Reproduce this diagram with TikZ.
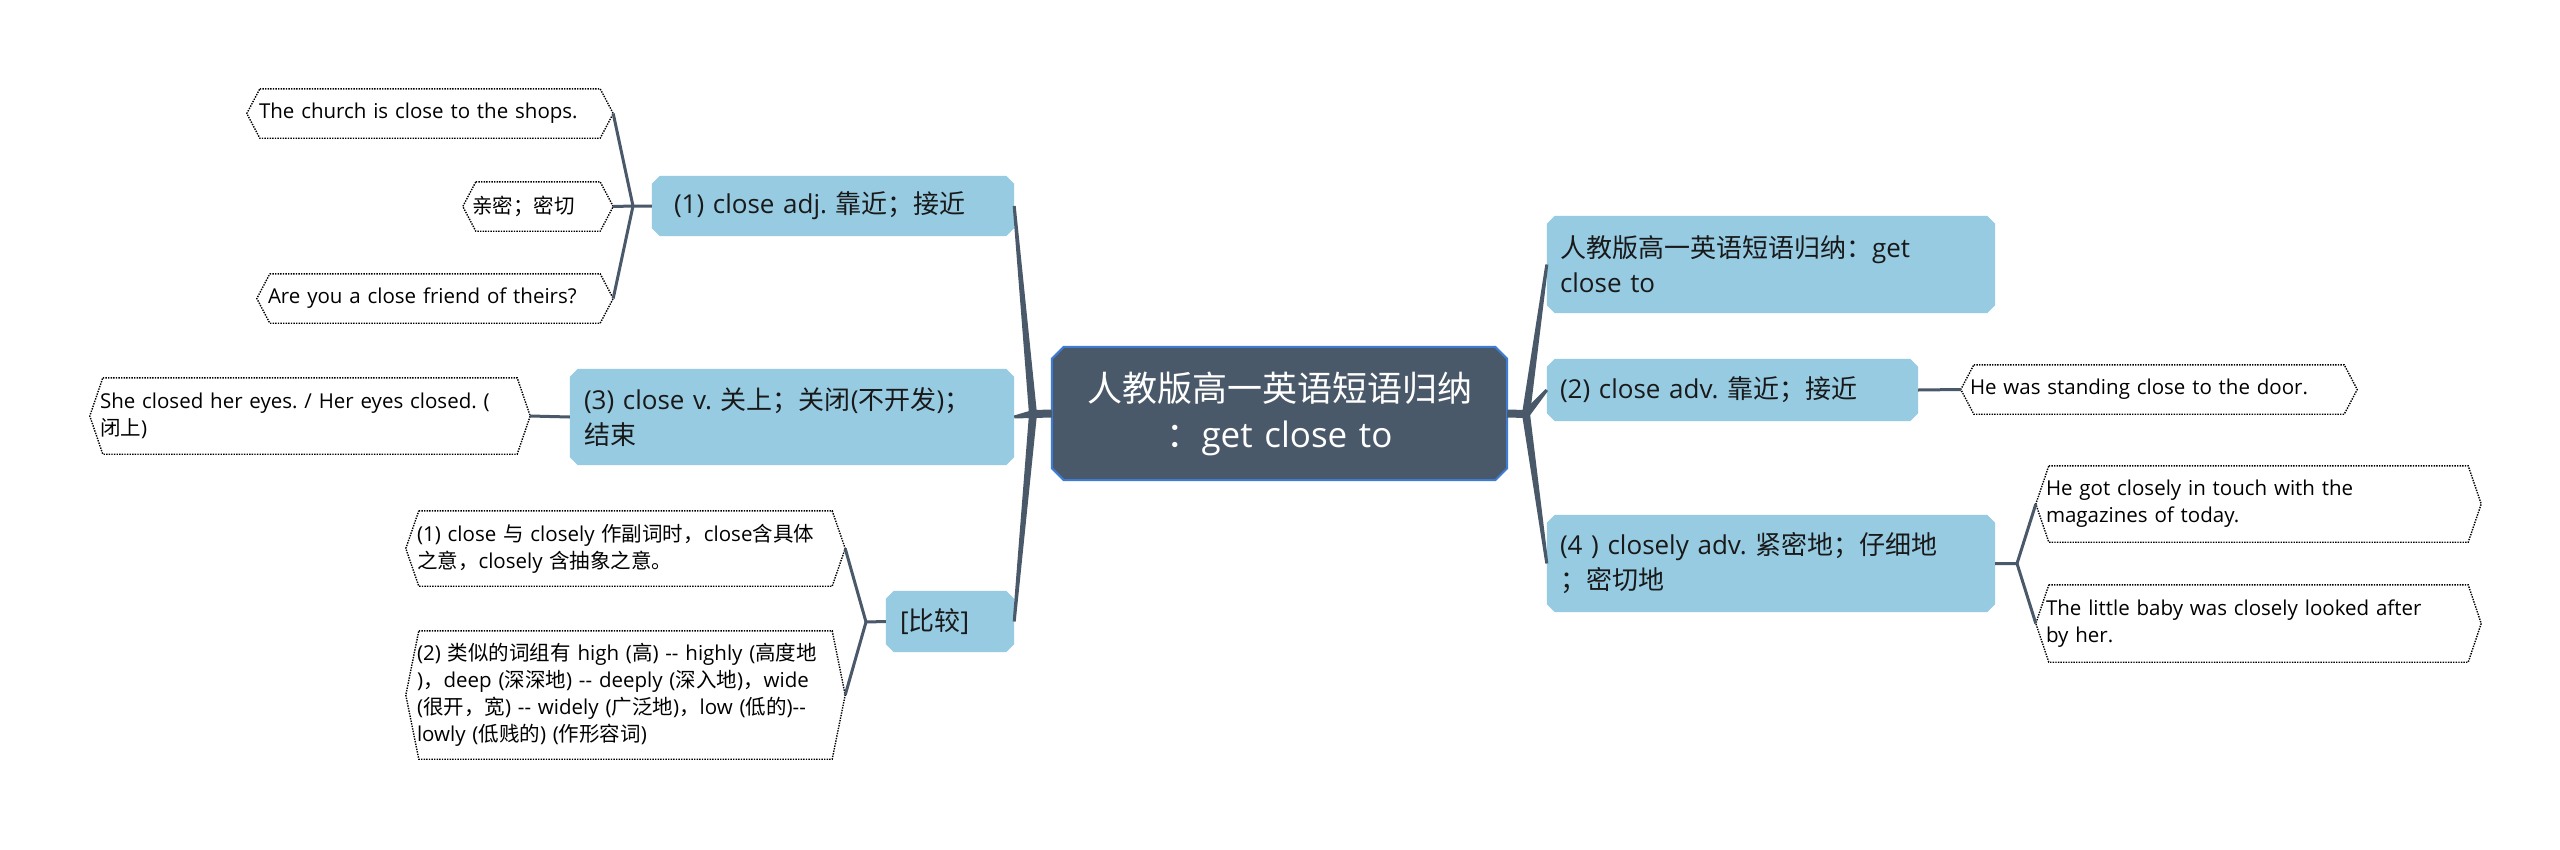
\documentclass[tikz,border=0pt]{standalone}
\usepackage{fontspec}
\setmainfont{Open Sans}
\newfontfamily\cjk{Noto Sans CJK SC}
\usetikzlibrary{calc}
\definecolor{slate}{RGB}{74,89,105}
\definecolor{lblue}{RGB}{150,203,226}
\definecolor{cborder}{RGB}{62,123,211}
\newcommand\zh[1]{{\cjk #1}}
\newcommand\ddash{-\kern0pt-}
\frenchspacing
\pgfdeclarelayer{back}\pgfdeclarelayer{bg}\pgfsetlayers{back,bg,main}
\newcommand\octbox[3]{\filldraw[#1] ($(#2.north west)+(#3,0)$) -- ($(#2.north east)+(-#3,0)$) -- ($(#2.north east)+(0,#3)$) -- ($(#2.south east)+(0,-#3)$) -- ($(#2.south east)+(-#3,0)$) -- ($(#2.south west)+(#3,0)$) -- ($(#2.south west)+(0,-#3)$) -- ($(#2.north west)+(0,#3)$) -- cycle;}
\newcommand\hexleaf[1]{\filldraw[leafline] ($(#1.north west)+(13,0)$) -- ($(#1.north east)+(-13,0)$) -- (#1.east) -- ($(#1.south east)+(-13,0)$) -- ($(#1.south west)+(13,0)$) -- (#1.west) -- cycle;}
\newcommand\mmtaper[2]{\fill[slate] ($(#1)!4pt!90:(#2)$) -- ($(#2)!1.5pt!-90:(#1)$) -- ($(#2)!1.5pt!90:(#1)$) -- ($(#1)!4pt!-90:(#2)$) -- cycle;}
\begin{document}
\begin{tikzpicture}[x=1pt,y=-1pt,
  center/.style={inner sep=0pt, align=center, text=white, font=\fontsize{35}{46}\selectfont},
  branch/.style={inner sep=0pt, align=left, text=black!90, font=\fontsize{26}{35}\selectfont},
  leaf/.style={inner sep=0pt, align=left, text=black, font=\fontsize{20.5}{27}\selectfont},
  leafconn/.style={draw=slate, line width=3pt, line join=round},
  leafline/.style={draw=black, fill=white, line width=1.4pt, dash pattern=on 1.4pt off 1.2pt}]
\useasboundingbox (0,0) rectangle (2560,849);
\begin{pgfonlayer}{back}
\fill[white] (0,0) rectangle (2560,849);
\end{pgfonlayer}

% central
\node[center, minimum width=455pt, minimum height=133pt, text width=420pt] (c) at (1279.5,413.5) {\zh{人教版高一英语短语归纳}\\\zh{：}get close to};

% branches
\node[branch, minimum width=362pt, minimum height=60pt, text width=318pt] (b1) at (833,206) {(1) close adj. \zh{靠近；接近}};
\node[branch, minimum width=444pt, minimum height=96pt, text width=416pt] (b3) at (792,417) {(3) close v. \zh{关上；关闭}(\zh{不开发})\zh{；}\\\zh{结束}};
\node[branch, minimum width=128pt, minimum height=61pt, text width=100pt] (bc) at (950,621.5) {[\zh{比较}]};
\node[branch, minimum width=448pt, minimum height=97pt, text width=422pt] (r1) at (1771,264.5) {\zh{人教版高一英语短语归纳：}get\\close to};
\node[branch, minimum width=371pt, minimum height=62pt, text width=345pt] (r2) at (1732.5,390) {(2) close adv. \zh{靠近；接近}};
\node[branch, minimum width=448pt, minimum height=97pt, text width=422pt] (r4) at (1771,563.5) {(4 ) closely adv. \zh{紧密地；仔细地}\\\zh{；密切地}};

% leaves
\node[leaf, minimum width=366pt, minimum height=49pt, text width=342pt] (l1) at (430,113.5) {The church is close to the shops.};
\node[leaf, minimum width=150pt, minimum height=49pt, text width=132pt] (l2) at (538,206.5) {\zh{亲密；密切}};
\node[leaf, minimum width=356pt, minimum height=49pt, text width=334pt] (l3) at (435,298.5) {Are you a close friend of theirs?};
\node[leaf, minimum width=440pt, minimum height=76pt, text width=420pt] (l4) at (310,416) {She closed her eyes. / Her eyes closed. (\\\zh{闭上})};
\node[leaf, minimum width=439pt, minimum height=75pt, text width=417pt] (lc1) at (625.5,548.5) {(1) close \zh{与} closely \zh{作副词时，}close\zh{含具体}\\\zh{之意，}closely \zh{含抽象之意。}};
\node[leaf, minimum width=439pt, minimum height=128pt, text width=417pt] (lc2) at (625.5,695) {(2) \zh{类似的词组有} high (\zh{高}) \ddash{} highly (\zh{高度地}\\)\zh{，}deep (\zh{深深地}) \ddash{} deeply (\zh{深入地})\zh{，}wide\\(\zh{很开，宽}) \ddash{} widely (\zh{广泛地})\zh{，}low (\zh{低的})\ddash\\lowly (\zh{低贱的}) (\zh{作形容词})};
\node[leaf, minimum width=396pt, minimum height=49pt, text width=378pt] (rl2) at (2159,389.5) {He was standing close to the door.};
\node[leaf, minimum width=445pt, minimum height=76pt, text width=425pt] (rl4a) at (2258.5,504) {He got closely in touch with the\\magazines of today.};
\node[leaf, minimum width=445pt, minimum height=77pt, text width=425pt] (rl4b) at (2258.5,623.5) {The little baby was closely looked after\\by her.};

% junctions
\coordinate (jl) at (1033,414);
\coordinate (jr) at (1526,414);
\coordinate (j1) at (633,206);
\coordinate (jc) at (866,622);
\coordinate (j4) at (2017,563.5);

\begin{pgfonlayer}{bg}
% shapes
\octbox{fill=slate, draw=cborder, line width=2pt}{c}{12}
\octbox{fill=lblue, draw=none}{b1}{8}
\octbox{fill=lblue, draw=none}{b3}{8}
\octbox{fill=lblue, draw=none}{bc}{8}
\octbox{fill=lblue, draw=none}{r1}{8}
\octbox{fill=lblue, draw=none}{r2}{8}
\octbox{fill=lblue, draw=none}{r4}{8}
\hexleaf{l1}\hexleaf{l2}\hexleaf{l3}\hexleaf{l4}
\hexleaf{lc1}\hexleaf{lc2}
\hexleaf{rl2}\hexleaf{rl4a}\hexleaf{rl4b}
% main connectors
\draw[slate, line width=8pt] (c.west) -- (jl);
\draw[slate, line width=8pt] (c.east) -- (jr);
\mmtaper{jl}{b1.east}
\mmtaper{jl}{b3.east}
\mmtaper{jl}{bc.east}
\mmtaper{jr}{r1.west}
\mmtaper{jr}{r2.west}
\mmtaper{jr}{r4.west}
% leaf connectors
\draw[leafconn] (b1.west) -- (j1) -- (l1.east);
\draw[leafconn] (j1) -- (l2.east);
\draw[leafconn] (j1) -- (l3.east);
\draw[leafconn] (b3.west) -- (l4.east);
\draw[leafconn] (bc.west) -- (jc) -- (lc1.east);
\draw[leafconn] (jc) -- (lc2.east);
\draw[leafconn] (r2.east) -- (rl2.west);
\draw[leafconn] (r4.east) -- (j4) -- (rl4a.west);
\draw[leafconn] (j4) -- (rl4b.west);
\end{pgfonlayer}
\end{tikzpicture}
\end{document}
